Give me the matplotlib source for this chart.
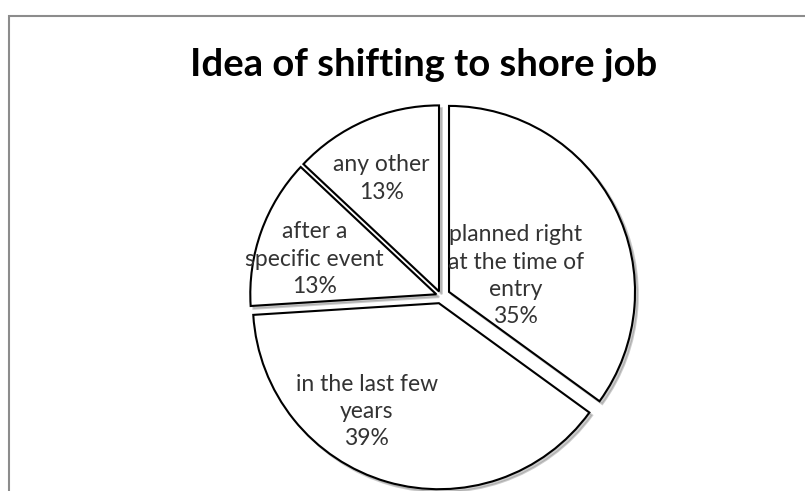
import matplotlib
matplotlib.use("Agg")
import matplotlib.pyplot as plt
from matplotlib.patches import Rectangle
import numpy as np

# Survey answers: when the idea of moving to a shore job came up
categories = ["planned right\nat the time of\nentry", "in the last few\nyears",
              "after a\nspecific event", "any other"]
shares = [35, 39, 13, 13]
title = "Idea of shifting to shore job"

# Styling / layout (figure is laid out in pixel units, y pointing up)
W, H = 805, 491
pie_center = (441, H - 296)
pie_radius = 186
explode_px = [9, 7.5, 5, 5]
# label placement relative to each wedge: (fraction of radius, angle in degrees)
label_place = [(0.37, 13.6), (0.70, -123.7), (0.68, 164.0), (0.68, 117.0)]
font = ["Lato", "DejaVu Sans"]

fig = plt.figure(figsize=(W / 100, H / 100), dpi=100)
ax = fig.add_axes([0, 0, 1, 1])

wedges, _ = ax.pie(
    shares,
    explode=explode_px,
    startangle=90,
    counterclock=False,
    radius=pie_radius,
    center=pie_center,
    frame=False,
    wedgeprops=dict(facecolor="white", edgecolor="black", linewidth=1.5),
    shadow=dict(ox=2, oy=-2, shade=0.45, alpha=0.45),
)

for w, cat, val, (fr, ang) in zip(wedges, categories, shares, label_place):
    cx, cy = w.center
    a = np.deg2rad(ang)
    ax.text(cx + fr * w.r * np.cos(a), cy + fr * w.r * np.sin(a),
            f"{cat}\n{val}%", ha="center", va="center", multialignment="center",
            fontsize=16.5, linespacing=1.38, color="#333333", family=font)

ax.set_xlim(0, W)
ax.set_ylim(0, H)
ax.set_aspect("equal")
ax.axis("off")

# chart frame (left and top edges visible)
fig.add_artist(Rectangle((8.5 / W, -0.2), 1.2, (H - 15.5) / H + 0.2,
                         transform=fig.transFigure, fill=False,
                         edgecolor="#8c8c8c", linewidth=1.5))

fig.text(424 / W, (H - 76) / H, title, ha="center", va="baseline",
         fontsize=27.5, fontweight="bold", color="black", family=font)

fig.savefig("out.png", dpi=100)
